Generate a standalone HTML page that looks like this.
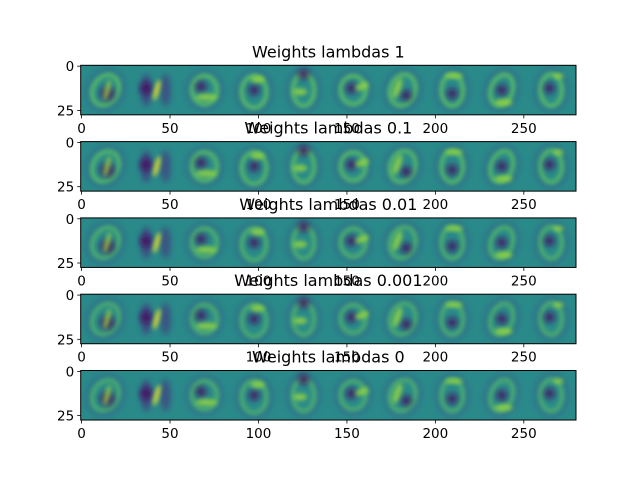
<!DOCTYPE html>
<html><head><meta charset="utf-8">
<style>
body{margin:0;background:#fff;}
svg{display:block;font-family:"DejaVu Sans","Liberation Sans",sans-serif;}
</style></head>
<body>
<svg id="fig" width="640" height="480" viewBox="0 0 640 480">
<defs>
<filter id="blur" x="-50%" y="-50%" width="200%" height="200%"><feGaussianBlur stdDeviation="3"/></filter>
<filter id="blur2" x="-50%" y="-50%" width="200%" height="200%"><feGaussianBlur stdDeviation="2"/></filter>
</defs>
</svg>
<script>
// panel data
const titles = ["Weights lambdas 1","Weights lambdas 0.1","Weights lambdas 0.01","Weights lambdas 0.001","Weights lambdas 0"];
const xTicks = [0,50,100,150,200,250];
const yTicks = [0,25];
const nCols = 280, nRows = 28;
// per-digit shapes (data units within 28x28 tile): ring [cx,cy,rx,ry,rot], dark [cx,cy,r], bright [cx,cy,rx,ry,rot]
const rings = [[14,14,7,9,30],[14,14,5,9,15],[14,14,7,8,0],[14,15,7,9,0],[14,14,6,9,0],[14,14,7,8,0],[14,14,7,9,20],[14,14,6,9,0],[14,14,6,9,20],[14,14,6,9,0]];
const darks = [[15,16,4],[9,13,3.5],[12,12,3],[14,14,3],[14,5,3],[13,13,3],[16,17,3],[14,16,3],[14,14,3],[13,13,3]];
const brights = [[15,14,1.5,6,15],[15,14,1.5,6,15],[15,18,6,2,0],[16,8,4,2,0],[12,15,4,2,0],[19,12,4,2,-20],[11,13,2,6,20],[15,6,5,1.5,0],[15,21,5,2,0],[18,6,3,1.5,0]];
const ringOpacity = [0.75,0.7,0.6,0.55,0.55];

const svg = document.getElementById('fig');
const NS = 'http://www.w3.org/2000/svg';
const L = 80.7, R = 576, W = R - L, sc = W / nCols, H = nRows * sc;
const tops = [65.3,141.6,217.9,294.2,370.5];
function mk(tag, attrs, parent){const e=document.createElementNS(NS,tag);for(const k in attrs)e.setAttribute(k,attrs[k]);(parent||svg).appendChild(e);return e;}
function xs(v){return L+(v+0.5)*sc;}

tops.forEach((T,p)=>{
  const g = mk('g',{});
  
  
  const cp = mk('clipPath',{id:'cp'+p}, svg.querySelector('defs'));
  mk('rect',{x:L,y:T,width:W,height:H},cp);
  const img = mk('g',{'clip-path':'url(#cp'+p+')'},g);
  
  
  mk('rect',{x:L,y:T,width:W,height:H,fill:'#2a8a8a'},img);
  for(let d=0;d<10;d++){
    const ox = L + d*28*sc, oy = T;
    const r = rings[d], dk = darks[d], b = brights[d];
    const tile = mk('g',{},img);
    
    
    if(d!==1){
      mk('ellipse',{cx:ox+r[0]*sc,cy:oy+r[1]*sc,rx:(r[2]+3)*sc,ry:(r[3]+2.5)*sc,transform:`rotate(${r[4]} ${ox+r[0]*sc} ${oy+r[1]*sc})`,fill:'none',stroke:'#3b528b','stroke-width':4,opacity:0.45,filter:'url(#blur)'},tile);
      mk('ellipse',{cx:ox+r[0]*sc,cy:oy+r[1]*sc,rx:r[2]*sc,ry:r[3]*sc,transform:`rotate(${r[4]} ${ox+r[0]*sc} ${oy+r[1]*sc})`,fill:'none',stroke:'#6ccd5a','stroke-width':4,opacity:ringOpacity[p],filter:'url(#blur2)'},tile);
    } else {
      mk('ellipse',{cx:ox+9*sc,cy:oy+14*sc,rx:3*sc,ry:9*sc,fill:'#46327e',opacity:0.7,filter:'url(#blur)'},tile);
      mk('ellipse',{cx:ox+20*sc,cy:oy+14*sc,rx:3*sc,ry:9*sc,fill:'#46327e',opacity:0.6,filter:'url(#blur)'},tile);
    }
    mk('circle',{cx:ox+dk[0]*sc,cy:oy+dk[1]*sc,r:dk[2]*sc,fill:'#440f60',opacity:0.8,filter:'url(#blur)'},tile);
    mk('ellipse',{cx:ox+b[0]*sc,cy:oy+b[1]*sc,rx:b[2]*sc,ry:b[3]*sc,transform:`rotate(${b[4]} ${ox+b[0]*sc} ${oy+b[1]*sc})`,fill:d===1?'#f4e628':'#9ad93e',opacity:0.8,filter:'url(#blur2)'},tile);
  }
  const frame = mk('rect',{x:L,y:T,width:W,height:H,fill:'none',stroke:'#000','stroke-width':1},g);
  
  
  xTicks.forEach(v=>{
    const x = xs(v);
    mk('line',{x1:x,x2:x,y1:T+H,y2:T+H+3.5,stroke:'#000','stroke-width':0.8},g);
    const t = mk('text',{x:x,y:T+H+18,'text-anchor':'middle','font-size':13.5,fill:'#000'},g);
    t.textContent = v;
    
    
  });
  yTicks.forEach(v=>{
    const y = T+(v+0.5)*sc;
    mk('line',{x1:L,x2:L-3.5,y1:y,y2:y,stroke:'#000','stroke-width':0.8},g);
    const t = mk('text',{x:L-6.5,y:y+5,'text-anchor':'end','font-size':13.5,fill:'#000'},g);
    t.textContent = v;
    
    
  });
  const tt = mk('text',{x:(L+R)/2,y:T-8,'text-anchor':'middle','font-size':16,fill:'#000'},g);
  tt.textContent = titles[p];
  
  
});
</script>
</body></html>
